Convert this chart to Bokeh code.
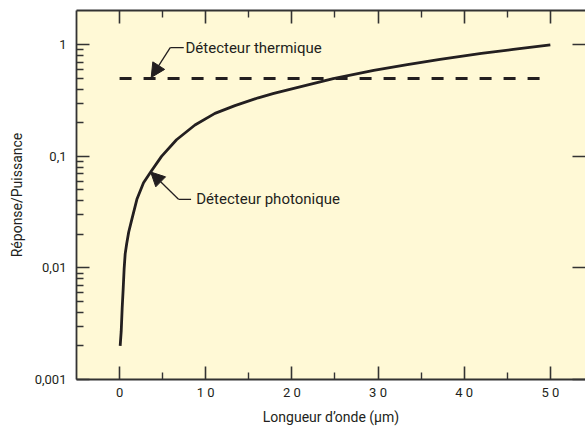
from bokeh.plotting import figure
from bokeh.models import (LinearAxis, LogAxis, FixedTicker, Range1d, Arrow,
                          NormalHead, Label)
from bokeh.embed import file_html
from bokeh.resources import INLINE

# ---- data ----
wavelength = [0.07, 0.19, 0.30, 0.42, 0.53, 0.65, 0.82, 1.06, 1.43, 2.01,
              2.78, 3.61, 4.87, 6.61, 8.75, 11.07, 13.39, 16.1, 17.9, 21.75,
              24.8, 29.5, 33.4, 37.2, 42.0, 45.7, 50.0]
photonic = [0.002, 0.00271, 0.00433, 0.00653, 0.00984, 0.01337, 0.0164,
            0.021, 0.0274, 0.0412, 0.058, 0.0724, 0.1, 0.141, 0.191, 0.243,
            0.285, 0.335, 0.367, 0.435, 0.497, 0.589, 0.665, 0.74, 0.836,
            0.908, 1.0]
thermal_x = [0.0, 49.5]
thermal_y = [0.5, 0.5]

x_ticks = [0, 10, 20, 30, 40, 50]
x_tick_labels = ["0", "1 0", "2 0", "3 0", "4 0", "5 0"]
x_minor = [5, 15, 25, 35, 45]
y_ticks = [0.001, 0.01, 0.1, 1]
y_tick_labels = ["0,001", "0,01", "0,1", "1"]
y_minor = [m * d for d in (0.001, 0.01, 0.1) for m in range(2, 10)]

INK = "#231F20"
AX = "#333333"
FONT = "Roboto"
BG = "#FFF9D6"

p = figure(width=585, height=427, x_range=Range1d(-5, 54.08),
           y_range=Range1d(0.001, 2.03), y_axis_type="log",
           output_backend="svg", toolbar_location=None,
           min_border_left=76, min_border_top=10, min_border_right=0,
           min_border_bottom=45)
p.background_fill_color = BG
p.border_fill_color = "white"
p.outline_line_color = None
p.grid.visible = False


def style_axis(ax, labels=True, minor=True, line=True):
    ax.major_tick_in = 13
    ax.major_tick_out = 0
    ax.minor_tick_in = 7 if minor else 0
    ax.minor_tick_out = 0
    ax.major_tick_line_color = AX
    ax.major_tick_line_width = 1.6
    ax.minor_tick_line_color = AX if minor else None
    ax.minor_tick_line_width = 1.4
    ax.axis_line_color = AX if line else None
    ax.axis_line_width = 1.8
    ax.major_label_text_font = FONT
    ax.major_label_text_color = INK
    ax.major_label_text_font_size = "13px" if labels else "0px"
    ax.axis_label_text_font = FONT
    ax.axis_label_text_font_style = "normal"
    ax.axis_label_text_color = INK
    ax.axis_label_text_font_size = "14px"
    if not labels:
        ax.major_label_standoff = 0


# bottom axis
xb = p.xaxis[0]
xb.ticker = FixedTicker(ticks=x_ticks, minor_ticks=x_minor)
xb.major_label_overrides = dict(zip(x_ticks, x_tick_labels))
xb.axis_label = "Longueur d’onde (µm)"
style_axis(xb)
xb.major_label_standoff = 5
xb.axis_label_standoff = 6

# left axis
yl = p.yaxis[0]
yl.ticker = FixedTicker(ticks=y_ticks, minor_ticks=y_minor)
yl.major_label_overrides = dict(zip(y_ticks, y_tick_labels))
yl.axis_label = "Réponse/Puissance"
style_axis(yl)
yl.major_label_standoff = 10
yl.axis_label_standoff = 7

# top axis
xt = LinearAxis(ticker=FixedTicker(ticks=x_ticks, minor_ticks=x_minor),
                major_label_overrides={t: "" for t in x_ticks})
style_axis(xt, labels=False)
p.add_layout(xt, "above")

# right axis
yr = LogAxis(ticker=FixedTicker(ticks=y_ticks, minor_ticks=[]),
             major_label_overrides={t: "" for t in y_ticks})
style_axis(yr, labels=False, minor=False, line=False)
p.add_layout(yr, "right")

# series
p.line(wavelength, photonic, line_color=INK, line_width=2.8,
       line_join="round")
p.line(thermal_x, thermal_y, line_color=INK, line_width=3, line_dash="12 12")

# annotations
ann_font = "15px"
# thermal
p.add_layout(Arrow(x_start=5.88, y_start=0.944, x_end=3.67, y_end=0.51,
                   line_color=INK, line_width=1.3,
                   end=NormalHead(size=14, fill_color=INK, line_color=INK,
                                  line_width=1)))
p.add_layout(Arrow(x_start=5.88, y_start=0.944, x_end=7.45, y_end=0.944,
                   line_color=INK, line_width=1.3, end=None))
p.add_layout(Label(x=7.65, y=0.944, text="Détecteur thermique",
                   text_font=FONT, text_font_size=ann_font,
                   text_color=INK, text_baseline="middle"))
# photonic
p.add_layout(Arrow(x_start=6.84, y_start=0.0412, x_end=3.61, y_end=0.0724,
                   line_color=INK, line_width=1.3,
                   end=NormalHead(size=14, fill_color=INK, line_color=INK,
                                  line_width=1)))
p.add_layout(Arrow(x_start=6.84, y_start=0.0412, x_end=8.3, y_end=0.0412,
                   line_color=INK, line_width=1.3, end=None))
p.add_layout(Label(x=8.9, y=0.0412, text="Détecteur photonique",
                   text_font=FONT, text_font_size=ann_font,
                   text_color=INK, text_baseline="middle"))

open("out.html", "w").write(file_html(p, INLINE))
